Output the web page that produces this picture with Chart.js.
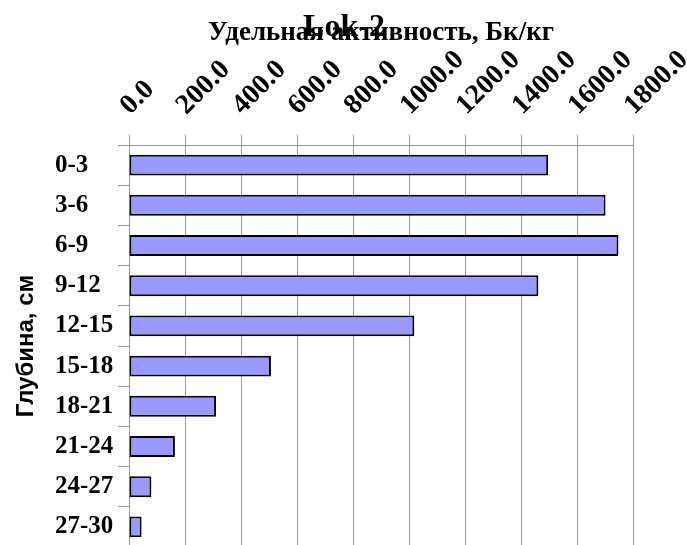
<!DOCTYPE html>
<html>
<head>
<meta charset="utf-8">
<script src="https://cdn.jsdelivr.net/npm/chart.js@4.4.1/dist/chart.umd.min.js"></script>
<style>
  html, body { margin: 0; padding: 0; background: #fff; overflow: hidden; }
  canvas { display: block; }
</style>
</head>
<body>
<canvas id="chart" width="687" height="550"></canvas>
<script>
// Lok-2: activity by depth
const depths = ['0-3', '3-6', '6-9', '9-12', '12-15', '15-18', '18-21', '21-24', '24-27', '27-30'];
const activity = [1497, 1702, 1748, 1462, 1019, 507, 311, 164, 80, 45];
const xMin = 0, xMax = 1800, xStep = 200;

const serif = '"Liberation Serif", "Times New Roman", serif';

new Chart(document.getElementById('chart'), {
  type: 'bar',
  data: {
    labels: depths,
    datasets: [{
      data: activity,
      backgroundColor: '#9999ff',
      borderColor: '#000',
      borderWidth: 2,
      borderSkipped: false,
      barPercentage: 0.52,
      categoryPercentage: 1
    }]
  },
  options: {
    indexAxis: 'y',
    responsive: false,
    animation: false,
    layout: { padding: { left: 55, right: 54, top: 0, bottom: 3 } },
    plugins: {
      legend: { display: false },
      tooltip: { enabled: false },
      title: {
        display: true,
        text: 'Lok-2',
        color: '#000',
        font: { family: serif, size: 32, weight: 'bold' },
        padding: { top: 9, bottom: -47.4 }
      }
    },
    scales: {
      x: {
        position: 'top',
        min: xMin,
        max: xMax,
        afterFit: s => { s.height = 145; s.paddingLeft = 0; s.paddingRight = 0; },
        ticks: {
          stepSize: xStep,
          minRotation: 45,
          maxRotation: 45,
          padding: 13,
          labelOffset: 20,
          color: '#000',
          font: { family: serif, size: 28, weight: 'bold' },
          callback: v => v.toFixed(1)
        },
        grid: { color: '#999', tickLength: 10, tickColor: '#999' },
        border: { color: '#999' },
        title: {
          display: true,
          text: 'Удельная активность, Бк/кг',
          color: '#000',
          font: { family: serif, size: 27, weight: 'bold' },
          padding: { top: 17, bottom: 0 }
        }
      },
      y: {
        afterFit: s => { s.width = 74; s.paddingTop = 0; s.paddingBottom = 0; },
        ticks: {
          crossAlign: 'far',
          color: '#000',
          font: { family: serif, size: 25, weight: 'bold' }
        },
        grid: { drawOnChartArea: false, tickLength: 11, color: '#999' },
        border: { color: '#999' },
        title: {
          display: true,
          text: 'Глубина, см',
          color: '#000',
          font: { family: '"Liberation Sans", Arial, sans-serif', size: 24, weight: 'bold' },
          padding: { top: -43, bottom: 0 }
        }
      }
    }
  }
});
</script>
</body>
</html>
